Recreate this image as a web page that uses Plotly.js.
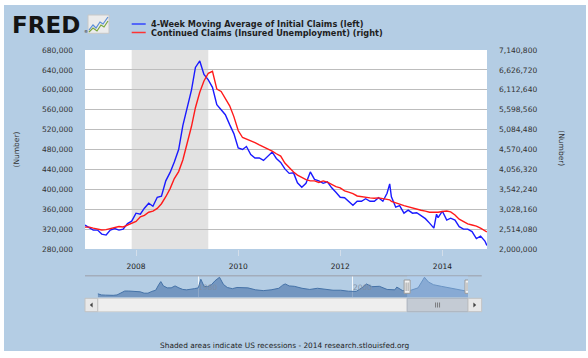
<!DOCTYPE html>
<html><head><meta charset="utf-8">
<script src="https://cdn.plot.ly/plotly-3.0.1.min.js"></script>
<style>
html,body{margin:0;padding:0;background:#fff;width:588px;height:358px;overflow:hidden}
#chart{position:absolute;left:4px;top:5px;width:582px;height:346px}
</style></head><body><div id="chart"></div>
<script>
// ---------------- data ----------------
const seriesNames = ['4-Week Moving Average of Initial Claims (left)', 'Continued Claims (Insured Unemployment) (right)'];
const dates = [
 '2007-01-01','2007-02-01','2007-03-01','2007-04-01','2007-05-01','2007-06-01','2007-07-01','2007-08-01','2007-09-01','2007-10-01','2007-11-01','2007-12-01',
 '2008-01-01','2008-02-01','2008-03-01','2008-04-01','2008-05-01','2008-06-01','2008-07-01','2008-08-01','2008-09-01','2008-10-01','2008-11-01','2008-12-01',
 '2009-01-01','2009-02-01','2009-03-01','2009-04-01','2009-05-01','2009-06-01','2009-07-01','2009-08-01','2009-09-01','2009-10-01','2009-11-01','2009-12-01',
 '2010-01-01','2010-02-01','2010-03-01','2010-04-01','2010-05-01','2010-06-01','2010-07-01','2010-08-01','2010-09-01','2010-10-01','2010-11-01','2010-12-01',
 '2011-01-01','2011-02-01','2011-03-01','2011-04-01','2011-05-01','2011-06-01','2011-07-01','2011-08-01','2011-09-01','2011-10-01','2011-11-01','2011-12-01',
 '2012-01-01','2012-02-01','2012-03-01','2012-04-01','2012-05-01','2012-06-01','2012-07-01','2012-08-01','2012-09-01','2012-10-01','2012-11-01','2012-12-01','2012-12-20',
 '2013-01-01','2013-02-01','2013-03-01','2013-04-01','2013-05-01','2013-06-01','2013-07-01','2013-08-01','2013-09-01','2013-10-01','2013-11-01','2013-11-20','2013-12-01',
 '2014-01-01','2014-02-01','2014-03-01','2014-04-01','2014-05-01','2014-06-01','2014-07-01','2014-08-01','2014-09-01','2014-10-01','2014-11-01','2014-11-15'
];
const initialClaims = [
 328000,322000,318000,318000,310000,308000,318000,321000,318000,320000,331000,336000,
 352000,350000,362000,372000,366000,384000,386000,417000,434000,455000,480000,528000,
 562000,600000,645000,658000,631000,620000,605000,570000,560000,550000,530000,512000,
 483000,480000,486000,470000,463000,463000,458000,466000,475000,462000,454000,441000,
 432000,433000,413000,404000,412000,435000,420000,417000,412000,415000,403000,394000,
 384000,383000,375000,368000,376000,376000,381000,376000,376000,383000,376000,392000,411000,
 385000,364000,367000,352000,358000,352000,353000,347000,341000,332000,322000,350000,343000,
 356000,338000,342000,338000,325000,320000,320000,315000,301000,306000,296000,287000
];
const continuedClaims = [
 2565000,2566000,2540000,2520000,2490000,2500000,2520000,2560000,2580000,2570000,2620000,2660000,
 2710000,2830000,2870000,2950000,2980000,3050000,3170000,3350000,3560000,3820000,4000000,4300000,
 4700000,5170000,5650000,6050000,6340000,6540000,6590000,6130000,6070000,5900000,5700000,5420000,
 5060000,4880000,4840000,4800000,4750000,4690000,4640000,4580000,4530000,4460000,4400000,4220000,
 4100000,3990000,3910000,3840000,3790000,3760000,3760000,3720000,3760000,3730000,3660000,3610000,
 3580000,3500000,3470000,3430000,3370000,3350000,3330000,3320000,3310000,3320000,3300000,3290000,3270000,
 3230000,3200000,3160000,3120000,3090000,3050000,3020000,3000000,2980000,2950000,2950000,2950000,2950000,
 2970000,2980000,2960000,2880000,2770000,2700000,2650000,2620000,2590000,2540000,2470000,2440000
];
const recessionStart = ['2007-12-01'];
const recessionEnd = ['2009-06-01'];
const xTickVals = ['2008-01-01','2010-01-01','2012-01-01','2014-01-01'];
const xTickText = ['2008','2010','2012','2014'];
const leftTicks = [280000,320000,360000,400000,440000,480000,520000,560000,600000,640000,680000];
const rightTicks = [2000000,2514080,3028160,3542240,4056320,4570400,5084480,5598560,6112640,6626720,7140800];
const axisTitle = '(Number)';
const footerText = 'Shaded areas indicate US recessions - 2014 research.stlouisfed.org';
// navigator (full history of initial claims)
const navDates = [
 '1967-01-01','1967-07-01','1968-01-01','1968-07-01','1969-01-01','1969-07-01','1970-01-01','1970-07-01','1971-01-01','1971-07-01',
 '1972-01-01','1972-07-01','1973-01-01','1973-07-01','1974-01-01','1974-07-01','1974-12-01','1975-03-01','1975-07-01','1976-01-01',
 '1976-07-01','1977-01-01','1977-07-01','1978-01-01','1978-07-01','1979-01-01','1979-07-01','1980-01-01','1980-05-01','1980-10-01',
 '1981-04-01','1981-10-01','1982-03-01','1982-10-01','1983-04-01','1983-10-01','1984-06-01','1985-01-01','1985-07-01','1986-06-01',
 '1987-06-01','1988-06-01','1989-06-01','1990-06-01','1990-12-01','1991-04-01','1991-10-01','1992-06-01','1993-06-01','1994-06-01',
 '1995-06-01','1996-06-01','1997-06-01','1998-06-01','1999-06-01','2000-06-01','2001-03-01','2001-10-01','2002-06-01','2003-06-01',
 '2004-06-01','2005-06-01','2005-09-01','2006-06-01','2007-06-01','2008-06-01','2008-12-01','2009-04-01','2009-10-01','2010-06-01',
 '2011-06-01','2012-06-01','2013-06-01','2014-06-01','2014-11-15'
];
const navClaims = [
 230000,200000,195000,185000,190000,200000,250000,300000,300000,295000,
 290000,280000,245000,245000,290000,320000,470000,540000,430000,380000,
 380000,430000,380000,340000,330000,340000,360000,380000,600000,420000,
 410000,470000,560000,650000,470000,390000,360000,390000,390000,380000,
 330000,310000,330000,370000,450000,480000,430000,420000,370000,340000,
 370000,350000,320000,320000,295000,290000,380000,480000,410000,420000,
 340000,330000,400000,310000,315000,380000,540000,650000,530000,460000,
 420000,380000,345000,315000,290000
];
const navRange = ['1967-01-01','2014-11-15'];
const navSelection = ['2007-01-01','2014-11-15'];
const navMid = '2010-12-08';

// ---------------- helpers for paper positions ----------------
const px = x => (x - 85) / 402;
const py = y => (321 - y) / 271;
const BLUE = '#1a1aff', RED = '#ff1a1a', BG = '#b4cde4';

const traces = [
 {x: dates, y: initialClaims, name: seriesNames[0], type: 'scatter', mode: 'lines',
  line: {color: BLUE, width: 1.4}, xaxis: 'x', yaxis: 'y', hoverinfo: 'skip'},
 {x: dates, y: continuedClaims, name: seriesNames[1], type: 'scatter', mode: 'lines',
  line: {color: RED, width: 1.4}, xaxis: 'x', yaxis: 'y2', hoverinfo: 'skip'},
 {x: navDates, y: navClaims, type: 'scatter', mode: 'lines', fill: 'tozeroy',
  line: {color: '#4572a7', width: 1}, fillcolor: 'rgba(69,110,165,0.58)', xaxis: 'x3', yaxis: 'y3', hoverinfo: 'skip'}
];

const shapes = [
 {type: 'rect', xref: 'x domain', yref: 'y domain', x0: 0, x1: 1, y0: 0, y1: 1, fillcolor: '#ffffff', line: {width: 0}, layer: 'below'},
 {type: 'rect', xref: 'x', yref: 'y domain', x0: recessionStart[0], x1: recessionEnd[0], y0: 0, y1: 1, fillcolor: '#e2e2e2', line: {width: 0}, layer: 'below'},
 // navigator frame line
 {type: 'line', xref: 'paper', yref: 'paper', x0: 0, x1: px(481.7), y0: py(275.7), y1: py(275.7), line: {color: '#a3adbb', width: 1.5}},
 // navigator selection
 {type: 'rect', xref: 'x3', yref: 'paper', x0: navSelection[0], x1: navSelection[1], y0: py(297.3), y1: py(275.7), fillcolor: 'rgba(175,208,250,0.35)', line: {width: 0}},
 // scrollbar track
 {type: 'rect', xref: 'paper', yref: 'paper', x0: px(97.7), x1: px(468), y0: py(311.7), y1: py(298.3), fillcolor: '#eeeeee', line: {color: '#d2d2d2', width: 1}},
 // scrollbar thumb
 {type: 'rect', xref: 'x3', yref: 'paper', x0: navSelection[0], x1: navSelection[1], y0: py(311.7), y1: py(298.3), fillcolor: '#c4cbd4', line: {color: '#aab3be', width: 1}},
 // scroll buttons
 {type: 'rect', xref: 'paper', yref: 'paper', x0: 0, x1: px(97.7), y0: py(311.7), y1: py(298.3), fillcolor: '#e8e8e8', line: {color: '#c2c2c2', width: 1}},
 {type: 'rect', xref: 'paper', yref: 'paper', x0: px(468), x1: px(481.7), y0: py(311.7), y1: py(298.3), fillcolor: '#e8e8e8', line: {color: '#c2c2c2', width: 1}},
 {type: 'path', xref: 'paper', yref: 'paper', path: `M ${px(92.6)} ${py(302.6)} L ${px(92.6)} ${py(307.4)} L ${px(89.8)} ${py(305)} Z`, fillcolor: '#444', line: {width: 0}},
 {type: 'path', xref: 'paper', yref: 'paper', path: `M ${px(473.4)} ${py(302.6)} L ${px(473.4)} ${py(307.4)} L ${px(476.2)} ${py(305)} Z`, fillcolor: '#444', line: {width: 0}},
 // legend sample lines
 {type: 'line', xref: 'paper', yref: 'paper', x0: px(131.7), x1: px(145.7), y0: py(24), y1: py(24), line: {color: '#3344ff', width: 1.5}},
 {type: 'line', xref: 'paper', yref: 'paper', x0: px(131.7), x1: px(145.7), y0: py(32.5), y1: py(32.5), line: {color: '#ff3333', width: 1.5}},
 // FRED icon
 {type: 'rect', xref: 'paper', yref: 'paper', x0: px(88), x1: px(109), y0: py(33.3), y1: py(15), fillcolor: '#ececec', line: {color: '#c8c8c8', width: 1}},
 {type: 'path', xref: 'paper', yref: 'paper', path: `M ${px(89)} ${py(30)} L ${px(93)} ${py(25)} L ${px(96)} ${py(28)} L ${px(100)} ${py(22)} L ${px(103)} ${py(24)} L ${px(108)} ${py(17)}`, line: {color: '#5b8ed6', width: 1.2}},
 {type: 'path', xref: 'paper', yref: 'paper', path: `M ${px(89)} ${py(32)} L ${px(93)} ${py(28)} L ${px(97)} ${py(31)} L ${px(101)} ${py(25)} L ${px(104)} ${py(27)} L ${px(108)} ${py(21)}`, line: {color: '#7aa63c', width: 1.2}}
];
// navigator handles
navSelection.forEach(d => {
 shapes.push({type: 'rect', xref: 'x3', xsizemode: 'pixel', xanchor: d, x0: -3, x1: 3, yref: 'paper', y0: py(293.3), y1: py(280), fillcolor: '#f4f4f4', line: {color: '#9a9a9a', width: 1}});
 [-1, 1].forEach(o => shapes.push({type: 'line', xref: 'x3', xsizemode: 'pixel', xanchor: d, x0: o, x1: o, yref: 'paper', y0: py(291), y1: py(282.5), line: {color: '#8a8a8a', width: 0.8}}));
});
[-2, 0, 2].forEach(o => shapes.push({type: 'line', xref: 'x3', xsizemode: 'pixel', xanchor: navMid, x0: o, x1: o, yref: 'paper', y0: py(307.5), y1: py(302.5), line: {color: '#666', width: 0.8}}));

const annotations = [
 {text: '<b>FRED</b>', xref: 'paper', yref: 'paper', x: px(10), y: py(25), xanchor: 'left', yanchor: 'middle', showarrow: false, font: {size: 23, color: '#141414', family: 'DejaVu Sans'}},
 {text: '®', xref: 'paper', yref: 'paper', x: px(82), y: py(31.5), xanchor: 'left', yanchor: 'middle', showarrow: false, font: {size: 4, color: '#141414'}},
 {text: '<b>' + seriesNames[0] + '</b>', xref: 'paper', yref: 'paper', x: px(148.5), y: py(24), xanchor: 'left', yanchor: 'middle', showarrow: false, font: {size: 8.2, color: '#1e1e1e'}},
 {text: '<b>' + seriesNames[1] + '</b>', xref: 'paper', yref: 'paper', x: px(148.5), y: py(32.8), xanchor: 'left', yanchor: 'middle', showarrow: false, font: {size: 8.2, color: '#1e1e1e'}},
 {text: axisTitle, xref: 'paper', yref: 'paper', x: px(561.7), y: py(148), xanchor: 'center', yanchor: 'middle', textangle: 90, showarrow: false, font: {size: 7.5, color: '#333'}},
 {text: footerText, xref: 'paper', yref: 'paper', x: px(284.2), y: py(345.3), xanchor: 'center', yanchor: 'middle', showarrow: false, font: {size: 7.4, color: '#222'}}
];

const layout = {
 width: 582, height: 346,
 margin: {l: 81, r: 99, t: 45, b: 30, pad: 0},
 paper_bgcolor: BG, plot_bgcolor: 'rgba(0,0,0,0)',
 font: {family: 'DejaVu Sans, Verdana, sans-serif', size: 7.5, color: '#333'},
 showlegend: false,
 xaxis: {type: 'date', domain: [0, 1], anchor: 'y', range: ['2007-01-01', '2014-11-16'],
  tickvals: xTickVals, ticktext: xTickText, ticks: 'outside', ticklen: 6, tickcolor: '#d3deea', ticklabelstandoff: 4,
  showgrid: false, showline: false, zeroline: false, fixedrange: true, tickfont: {size: 7.5, color: '#222'}},
 yaxis: {domain: [py(249), 1], anchor: 'x', range: [280000, 680000], tickvals: leftTicks, tickformat: ',d',
  showgrid: true, gridcolor: '#bdbdbd', gridwidth: 1, zeroline: false, showline: false, ticks: '', ticklabelstandoff: 11,
  tickfont: {size: 7.5, color: '#333'},
  title: {text: axisTitle, font: {size: 7.5, color: '#333'}, standoff: 21}, fixedrange: true},
 yaxis2: {overlaying: 'y', side: 'right', anchor: 'x', range: [2000000, 7140800], tickvals: rightTicks, tickformat: ',d',
  showgrid: false, zeroline: false, showline: false, ticks: '', ticklabelstandoff: 11, fixedrange: true,
  tickfont: {size: 7.5, color: '#333'}},
 xaxis3: {type: 'date', domain: [px(97.7), px(468)], anchor: 'y3', range: navRange, tick0: '1980-01-01', dtick: 'M240',
  tickformat: '%Y', ticklabelposition: 'inside right', ticks: '', showgrid: true, gridcolor: 'rgba(255,255,255,0.85)', gridwidth: 1,
  zeroline: false, showline: false, tickfont: {size: 7.5, color: '#7f8fa4'}, fixedrange: true},
 yaxis3: {domain: [py(297.3), py(275.7)], anchor: 'x3', range: [140000, 690000], visible: false, fixedrange: true},
 shapes: shapes,
 annotations: annotations
};

Plotly.newPlot('chart', traces, layout, {staticPlot: true, displayModeBar: false});
</script></body></html>
